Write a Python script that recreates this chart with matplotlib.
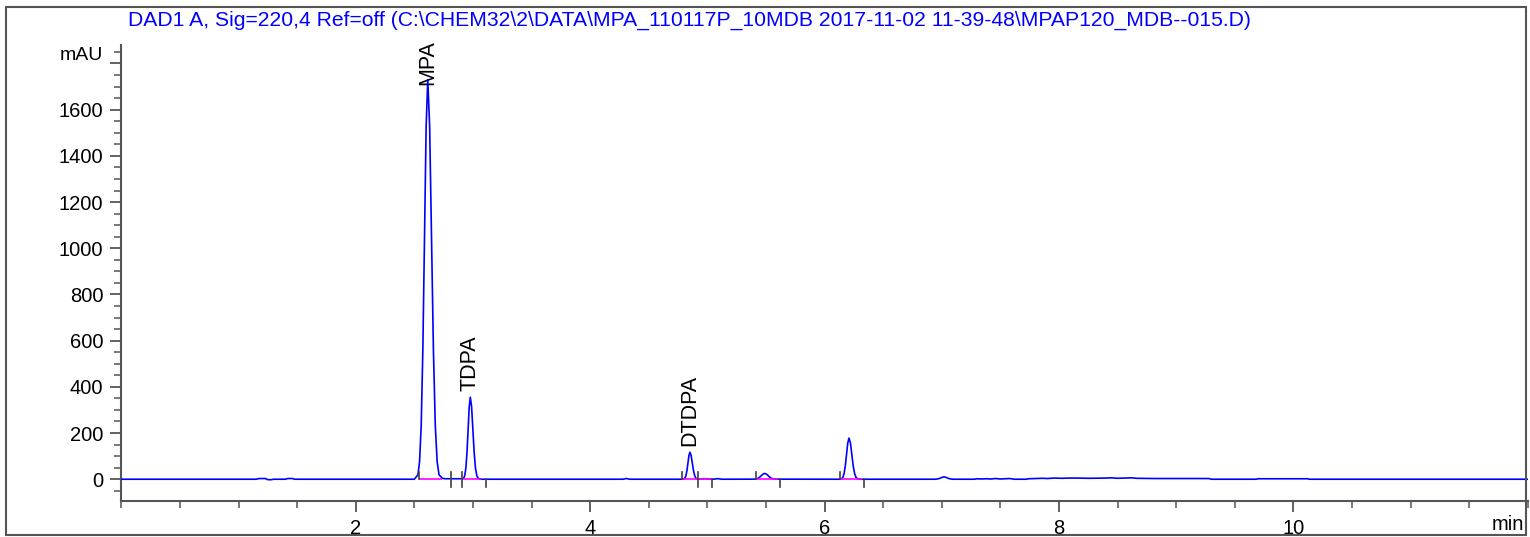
import matplotlib
matplotlib.use("Agg")
import matplotlib.pyplot as plt
from matplotlib.ticker import MultipleLocator, FixedLocator, FixedFormatter
from matplotlib.patches import Rectangle

plt.rcParams['font.family'] = ['Liberation Sans', 'DejaVu Sans']

title = r"DAD1 A, Sig=220,4 Ref=off (C:\CHEM32\2\DATA\MPA_110117P_10MDB 2017-11-02 11-39-48\MPAP120_MDB--015.D)"

# Chromatogram trace (time in min, signal in mAU)
time_min = [
    0.00, 1.15, 1.18, 1.23, 1.25, 1.28, 1.30, 1.40, 1.42, 1.46, 1.48,
    2.50, 2.531, 2.545, 2.559, 2.573, 2.587, 2.601, 2.615, 2.631, 2.647, 2.663,
    2.679, 2.695, 2.711, 2.74, 2.76, 2.90,
    2.921, 2.9305, 2.940, 2.9495, 2.959, 2.9685, 2.978, 2.989, 3.000, 3.011,
    3.022, 3.033, 3.044, 3.07,
    4.28, 4.31, 4.34,
    4.790, 4.801, 4.8095, 4.818, 4.8265, 4.835, 4.8435, 4.852, 4.862, 4.872,
    4.882, 4.892, 4.902, 4.912, 4.93, 4.97, 4.99, 5.03, 5.05, 5.08, 5.10, 5.12,
    5.40, 5.415, 5.43, 5.445, 5.46, 5.475, 5.49, 5.505, 5.52, 5.535, 5.55, 5.565, 5.58,
    6.135, 6.146, 6.1565, 6.167, 6.1775, 6.188, 6.1985, 6.209, 6.221, 6.233,
    6.245, 6.257, 6.269, 6.281, 6.30,
    6.94, 6.96, 6.98, 7.00, 7.02, 7.04, 7.06, 7.08, 7.10,
    7.28, 7.30, 7.34, 7.38, 7.42, 7.46, 7.50, 7.54, 7.58, 7.62, 7.72, 7.74,
    7.80, 7.86, 7.90, 7.96, 8.02, 8.10, 8.15, 8.25, 8.40, 8.45, 8.50, 8.62,
    8.66, 8.82, 9.28, 9.30, 9.68, 9.70, 10.12, 10.14, 12.00,
]
signal_mau = [
    0, 0, 3, 3, -2, -2, 0, 0, 3, 3, 0,
    0, 19, 76, 234, 562, 1049, 1527, 1730, 1527, 1049, 562,
    234, 76, 19, 4, 2, 2,
    4, 16, 48, 115, 215, 313, 355, 313, 215, 115,
    48, 16, 4, 0,
    0, 3, 0,
    0, 1.3, 5, 16, 38, 71, 103, 117, 103, 71,
    38, 16, 5, 1.3, 0, 2, 2, 0, 0, 2, 2, 0,
    0.3, 1.1, 3.4, 8, 15, 22, 25, 22, 15, 8, 3.4, 1.1, 0.3,
    0, 2, 8, 24, 58, 108, 157, 178, 157, 108,
    58, 24, 8, 2, 0,
    0, 0.8, 3, 7.5, 10, 7.5, 3, 0.8, 0,
    0, 2, 1, 2, 1, 3, 1, 2, 3, 0, 0, 2,
    3, 4, 3, 5, 4, 5, 5, 4, 5, 6, 4, 6,
    4, 3, 3, 0, 0, 2, 2, 0, 0,
]

# Named peaks
peak_names = ["MPA", "TDPA", "DTDPA"]
peak_times = [2.615, 2.978, 4.852]
peak_heights = [1730, 355, 117]

# Integration baselines (start, end) in min
baseline_start = [2.54, 2.91, 4.78, 4.92, 5.415, 6.13]
baseline_end = [2.74, 3.07, 4.92, 5.04, 5.60, 6.32]

# Integration event marks: 'up' = peak start, 'down' = peak end, 'both' = valley
event_times = [2.54, 2.81, 2.91, 3.11, 4.78, 4.92, 5.04, 5.415, 5.62, 6.13, 6.34]
event_kinds = ["up", "both", "both", "down", "up", "both", "down", "up", "down", "up", "down"]

y_major = [0, 200, 400, 600, 800, 1000, 1200, 1400, 1600, 1800]
y_labels = ["0", "200", "400", "600", "800", "1000", "1200", "1400", "1600", ""]
y_unit = "mAU"
x_major = [2, 4, 6, 8, 10]
x_unit = "min"

W, H = 1530, 537
fig = plt.figure(figsize=(W / 100, H / 100), dpi=100)
ax = fig.add_axes([121.3 / W, (H - 500.7) / H, (1527.7 - 121.3) / W, (500.7 - 45) / H])
ax.set_xlim(0, 12)
ax.set_ylim(-93, 1880)

blue = "#0000ff"
magenta = "#ff00ff"
tickc = "#404040"

ax.plot(time_min, signal_mau, color=blue, lw=1.2, zorder=3)

for s, e in zip(baseline_start, baseline_end):
    ax.plot([s, e], [0, 0], color=magenta, lw=1.2, zorder=3.5, solid_capstyle='butt')

mark = 32
for t, k in zip(event_times, event_kinds):
    lo = -mark if k in ("down", "both") else 0
    hi = mark if k in ("up", "both") else 0
    ax.plot([t, t], [lo, hi], color=tickc, lw=1.2, zorder=4)

for name, t, h in zip(peak_names, peak_times, peak_heights):
    if h + 30 > 1500:
        ax.text(t, 1902, name, rotation=90, ha='center', va='top', fontsize=15.5,
                color='black', clip_on=False, zorder=1)
    else:
        ax.text(t, h + 28, name, rotation=90, ha='center', va='bottom', fontsize=15.5,
                color='black', zorder=1)

for sp in ("top", "right"):
    ax.spines[sp].set_visible(False)
for sp in ("left", "bottom"):
    ax.spines[sp].set_color("#555555")
    ax.spines[sp].set_linewidth(1.5)

ax.yaxis.set_major_locator(FixedLocator(y_major))
ax.yaxis.set_major_formatter(FixedFormatter(y_labels))
ax.yaxis.set_minor_locator(MultipleLocator(50))
ax.xaxis.set_major_locator(FixedLocator(x_major))
ax.xaxis.set_minor_locator(MultipleLocator(0.5))
ax.tick_params(axis='both', which='major', length=8, width=1.3, color="#555555",
               labelsize=14.5, direction='out')
ax.tick_params(axis='both', which='minor', length=5, width=1.1, color="#555555",
               direction='out')
ax.tick_params(axis='y', which='major', pad=5)
ax.tick_params(axis='x', which='major', pad=5)

fig.text(103 / W, 1 - 56 / H, y_unit, ha='right', va='center', fontsize=14)
fig.text(128 / W, 1 - 20 / H, title, ha='left', va='center', fontsize=15.2, color=blue)
fig.text(1524 / W, 1 - 524 / H, x_unit, ha='right', va='center', fontsize=14.5)

fig.patches.append(Rectangle((6 / W, 2 / H), 1520 / W, (535 - 7) / H, transform=fig.transFigure,
                             fill=False, edgecolor="#555555", lw=1.5))

fig.savefig("out.png", dpi=100)
